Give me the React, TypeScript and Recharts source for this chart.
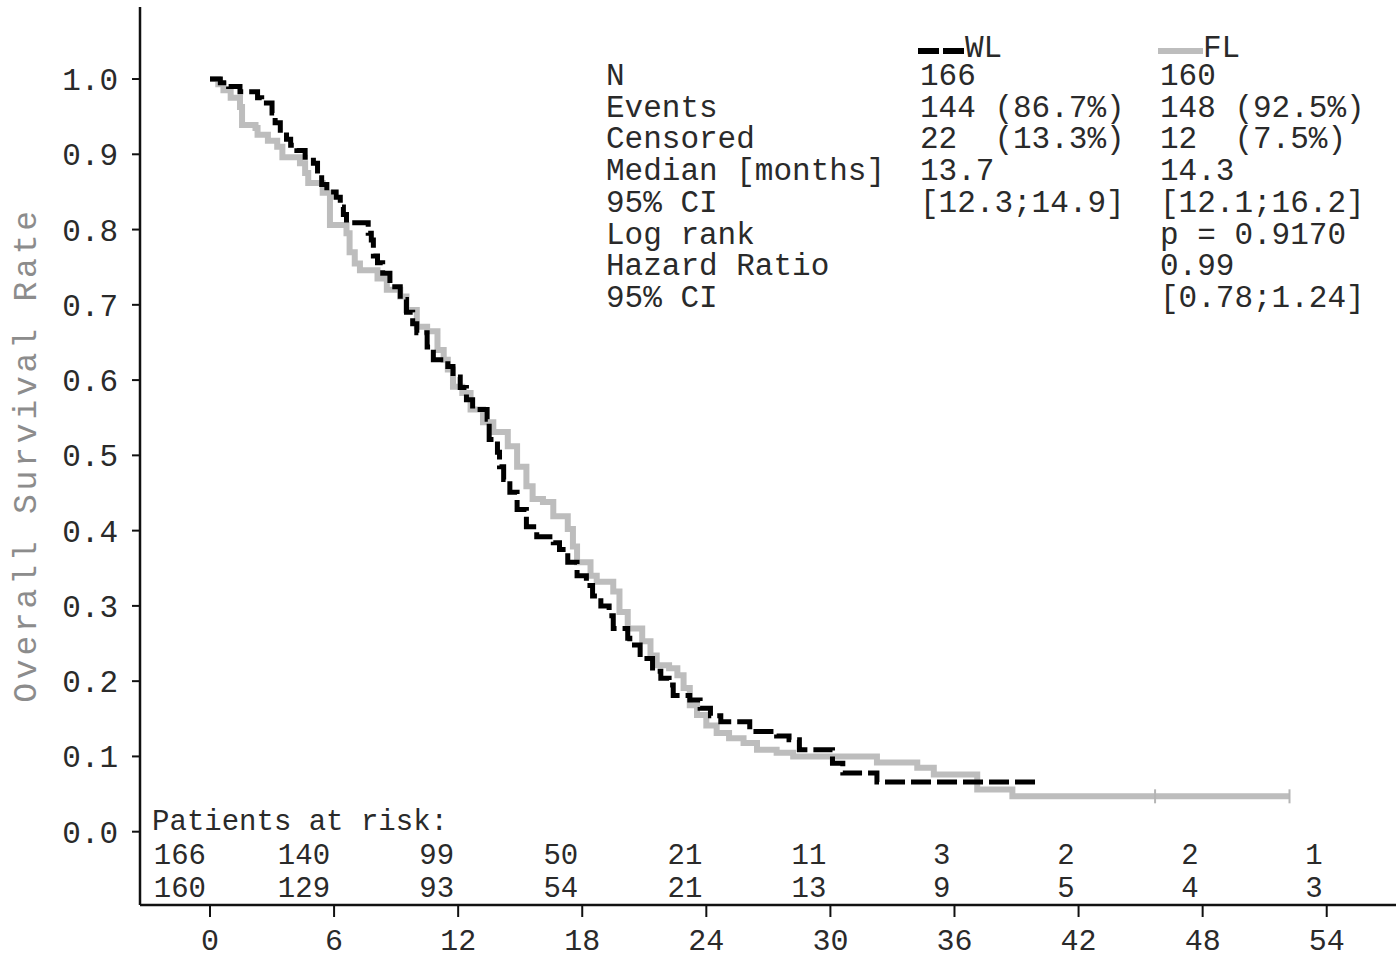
import React from "react";
import { ComposedChart, Line, Scatter, XAxis, YAxis } from "recharts";

const FONT = '"Liberation Mono", "Courier New", monospace';
const TEXT = "#2a2a2a";

// Kaplan-Meier step points (months, survival)
const WL_T = [0, 0.5, 0.9, 1.45, 2.3, 2.5, 3.0, 3.15, 3.4, 3.7, 3.9, 4.2, 4.6, 5.0, 5.2, 5.4, 5.65, 6.1, 6.3, 6.45, 6.6, 7.65, 7.8, 7.9, 8.1, 8.35, 8.7, 9.2, 9.5, 9.8, 10.0, 10.5, 10.8, 11.5, 11.75, 12.1, 12.4, 12.7, 13.4, 13.5, 13.9, 14.0, 14.2, 14.5, 14.85, 15.3, 15.8, 16.6, 16.9, 17.3, 17.75, 18.2, 18.5, 18.9, 19.3, 19.5, 20.2, 20.3, 20.8, 21.4, 21.8, 22.2, 22.4, 23.2, 23.7, 24.2, 24.7, 26.1, 27.4, 28.0, 28.5, 30.1, 30.6, 32.25, 40.0];
const WL_S = [1.0, 0.995, 0.99, 0.983, 0.975, 0.968, 0.955, 0.942, 0.932, 0.92, 0.912, 0.905, 0.896, 0.888, 0.873, 0.86, 0.85, 0.843, 0.83, 0.82, 0.809, 0.795, 0.786, 0.765, 0.756, 0.742, 0.724, 0.707, 0.69, 0.675, 0.663, 0.644, 0.627, 0.618, 0.604, 0.59, 0.574, 0.561, 0.548, 0.521, 0.504, 0.485, 0.468, 0.451, 0.428, 0.405, 0.392, 0.384, 0.375, 0.358, 0.34, 0.327, 0.313, 0.3, 0.287, 0.27, 0.257, 0.248, 0.23, 0.213, 0.204, 0.195, 0.181, 0.175, 0.164, 0.154, 0.146, 0.133, 0.127, 0.122, 0.109, 0.091, 0.078, 0.066, 0.066];

const FL_T = [0, 0.4, 0.65, 1.0, 1.45, 1.55, 2.2, 2.3, 2.8, 3.25, 3.5, 4.35, 4.6, 4.75, 5.45, 5.8, 6.6, 6.75, 7.0, 7.25, 8.1, 8.55, 9.2, 9.5, 10.0, 10.5, 11.0, 11.3, 11.5, 11.75, 12.2, 12.6, 13.2, 13.7, 14.4, 14.85, 15.3, 15.6, 16.1, 16.6, 17.3, 17.55, 17.75, 18.4, 18.7, 19.5, 19.8, 20.2, 20.9, 21.3, 21.6, 22.2, 22.6, 22.9, 23.2, 23.55, 24.0, 24.5, 25.1, 25.8, 26.45, 27.4, 28.2, 32.25, 34.2, 35.0, 37.1, 38.8, 52.2];
const FL_S = [1.0, 0.993, 0.985, 0.975, 0.963, 0.939, 0.935, 0.926, 0.918, 0.91, 0.896, 0.888, 0.875, 0.862, 0.849, 0.806, 0.795, 0.77, 0.755, 0.746, 0.735, 0.72, 0.711, 0.693, 0.671, 0.665, 0.64, 0.627, 0.614, 0.591, 0.583, 0.561, 0.544, 0.531, 0.512, 0.485, 0.459, 0.442, 0.438, 0.419, 0.402, 0.379, 0.358, 0.34, 0.332, 0.319, 0.292, 0.27, 0.253, 0.234, 0.221, 0.217, 0.208, 0.191, 0.168, 0.155, 0.141, 0.131, 0.124, 0.118, 0.109, 0.105, 0.1, 0.092, 0.085, 0.076, 0.056, 0.047, 0.047];

const FL_CENSOR_T = [45.7, 52.2];
const FL_CENSOR_S = [0.047, 0.047];

// Axis ticks
const X_TICKS = [0, 6, 12, 18, 24, 30, 36, 42, 48, 54];
const Y_TICKS = [0, 0.1, 0.2, 0.3, 0.4, 0.5, 0.6, 0.7, 0.8, 0.9, 1.0];

// Patients at risk
const RISK_T = [0, 6, 12, 18, 24, 30, 36, 42, 48, 54];
const RISK_WL = [166, 140, 99, 50, 21, 11, 3, 2, 2, 1];
const RISK_FL = [160, 129, 93, 54, 21, 13, 9, 5, 4, 3];
const RISK_TITLE = "Patients at risk:";

// Stats table
const STAT_LABELS = ["N", "Events", "Censored", "Median [months]", "95% CI", "Log rank", "Hazard Ratio", "95% CI"];
const STAT_WL = ["166", "144 (86.7%)", "22  (13.3%)", "13.7", "[12.3;14.9]", "", "", ""];
const STAT_FL = ["160", "148 (92.5%)", "12  (7.5%)", "14.3", "[12.1;16.2]", "p = 0.9170", "0.99", "[0.78;1.24]"];

const wlData = WL_T.map((t, i) => ({ t, s: WL_S[i] }));
const flData = FL_T.map((t, i) => ({ t, s: FL_S[i] }));
const flCensor = FL_CENSOR_T.map((t, i) => ({ t, y: FL_CENSOR_S[i] }));
const riskRow1 = RISK_T.map((t, i) => ({ t, y: -0.043, n: RISK_WL[i] }));
const riskRow2 = RISK_T.map((t, i) => ({ t, y: -0.0867, n: RISK_FL[i] }));
const riskTitle = [{ t: -2.8, y: 0.0023, n: RISK_TITLE }];

const numText = (anchor: string, dx: number) => (props: any) => {
  const { cx, cy, payload } = props;
  return (
    <text x={cx + dx} y={cy} textAnchor={anchor} fontFamily={FONT} fontSize={29} fill={TEXT} style={{ whiteSpace: "pre" }}>
      {String(payload.n)}
    </text>
  );
};

const censorMark = (props: any) => {
  const { cx, cy } = props;
  return <line x1={cx} x2={cx} y1={cy - 7} y2={cy + 7} stroke="#b5b5b5" strokeWidth={2} />;
};

export default function App() {
  const rowY = (i: number) => 85 + i * 31.7;
  return (
    <div style={{ position: "absolute", left: 0, top: 0, width: 1396, height: 958, background: "#fff" }}>
      <ComposedChart width={1396} height={958} margin={{ top: 7, right: 0, bottom: 0, left: 0 }}>
        <XAxis
          type="number"
          dataKey="t"
          domain={[-3.385, 57.35]}
          ticks={X_TICKS}
          allowDataOverflow
          height={53}
          tickSize={12}
          tickMargin={12}
          axisLine={{ stroke: "#111", strokeWidth: 2.5 }}
          tickLine={{ stroke: "#111", strokeWidth: 2 }}
          tick={{ fill: TEXT, fontSize: 30, fontFamily: FONT }}
        />
        <YAxis
          type="number"
          domain={[-0.0974, 1.0957]}
          ticks={Y_TICKS}
          allowDataOverflow
          width={140}
          tickSize={8}
          tickMargin={14}
          tickFormatter={(v: number) => v.toFixed(1)}
          axisLine={{ stroke: "#111", strokeWidth: 2.5 }}
          tickLine={{ stroke: "#111", strokeWidth: 2 }}
          tick={{ fill: TEXT, fontSize: 31, fontFamily: FONT }}
        />
        <Line data={flData} dataKey="s" type="stepAfter" stroke="#bdbdbd" strokeWidth={6} dot={false} isAnimationActive={false} />
        <Line data={wlData} dataKey="s" type="stepAfter" stroke="#000" strokeWidth={5} strokeDasharray="20 6" dot={false} isAnimationActive={false} />
        <Scatter data={flCensor} dataKey="y" shape={censorMark} isAnimationActive={false} />
        <Scatter data={riskTitle} dataKey="y" shape={numText("start", 0)} isAnimationActive={false} />
        <Scatter data={riskRow1} dataKey="y" shape={numText("end", -4)} isAnimationActive={false} />
        <Scatter data={riskRow2} dataKey="y" shape={numText("end", -4)} isAnimationActive={false} />
      </ComposedChart>
      <svg width={1396} height={958} style={{ position: "absolute", left: 0, top: 0, pointerEvents: "none" }}>
        <text
          x={27}
          y={455}
          transform="rotate(-90 27 455)"
          textAnchor="middle"
          dominantBaseline="central"
          fontFamily={FONT}
          fontSize={33}
          letterSpacing={3.8}
          fill="#8c8c8c"
        >
          Overall Survival Rate
        </text>
        <line x1={918} x2={965} y1={51} y2={51} stroke="#000" strokeWidth={6} strokeDasharray="21 4" />
        <text x={965} y={57} fontFamily={FONT} fontSize={31} fill={TEXT}>WL</text>
        <line x1={1158} x2={1203} y1={51} y2={51} stroke="#bdbdbd" strokeWidth={6} />
        <text x={1203} y={57} fontFamily={FONT} fontSize={31} fill={TEXT}>FL</text>
        {STAT_LABELS.map((s, i) => (
          <text key={"l" + i} x={606} y={rowY(i)} fontFamily={FONT} fontSize={31} fill={TEXT} style={{ whiteSpace: "pre" }} xmlSpace="preserve">{s}</text>
        ))}
        {STAT_WL.map((s, i) => (
          <text key={"w" + i} x={920} y={rowY(i)} fontFamily={FONT} fontSize={31} fill={TEXT} style={{ whiteSpace: "pre" }} xmlSpace="preserve">{s}</text>
        ))}
        {STAT_FL.map((s, i) => (
          <text key={"f" + i} x={1160} y={rowY(i)} fontFamily={FONT} fontSize={31} fill={TEXT} style={{ whiteSpace: "pre" }} xmlSpace="preserve">{s}</text>
        ))}
      </svg>
    </div>
  );
}
